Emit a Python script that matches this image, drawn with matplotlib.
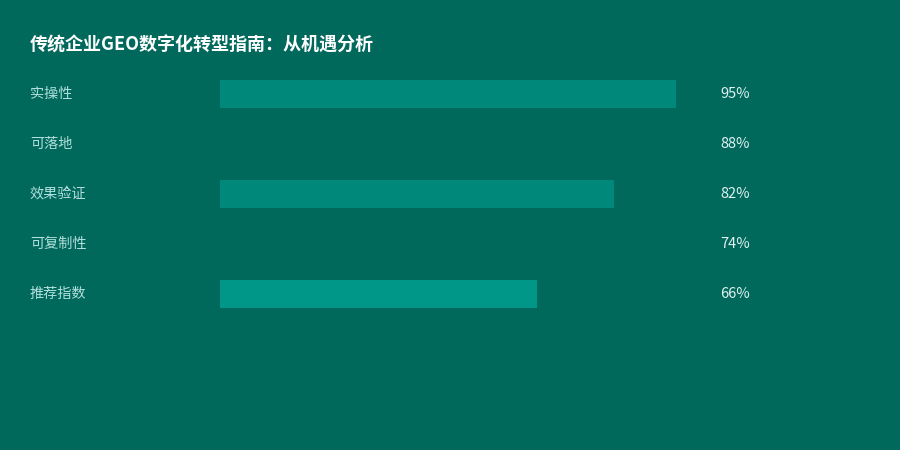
import matplotlib
matplotlib.use('Agg')
import matplotlib.pyplot as plt
import matplotlib.transforms as mtransforms

plt.rcParams['font.family'] = ['Noto Sans CJK SC', 'DejaVu Sans']

title = '传统企业GEO数字化转型指南：从机遇分析'
labels = ['实操性', '可落地', '效果验证', '可复制性', '推荐指数']
values = [95, 88, 82, 74, 66]
bar_colors = ['#00897B', '#00695C', '#00897B', '#00695C', '#009688']

bg = '#00695C'

fig = plt.figure(figsize=(9, 4.5), dpi=100, facecolor=bg)
# bar track runs from x=220px to 700px, rows 50px apart starting at y=69px
ax = fig.add_axes([220 / 900, 131 / 450, 480 / 900, 250 / 450])
ax.set_facecolor(bg)
ax.set_xlim(0, 100)
ax.set_ylim(len(labels) - 0.5, -0.5)
ax.axis('off')

ypos = list(range(len(labels)))
ax.barh(ypos, values, height=0.57, color=bar_colors, left=0)

trans = mtransforms.blended_transform_factory(fig.transFigure, ax.transData)
for i, (lab, val) in enumerate(zip(labels, values)):
    ax.text(30 / 900, i, lab, transform=trans, ha='left', va='center',
            fontsize=10.2, color='#B2DFDB')
    ax.text(720 / 900, i, f'{val}%', transform=trans, ha='left', va='center',
            fontsize=10.5, color='#E0F2F1')

fig.text(30 / 900, 1 - 45 / 450, title, ha='left', va='center',
         fontsize=13, fontweight='bold', color='white')

fig.savefig('out.png', dpi=100, facecolor=bg)
